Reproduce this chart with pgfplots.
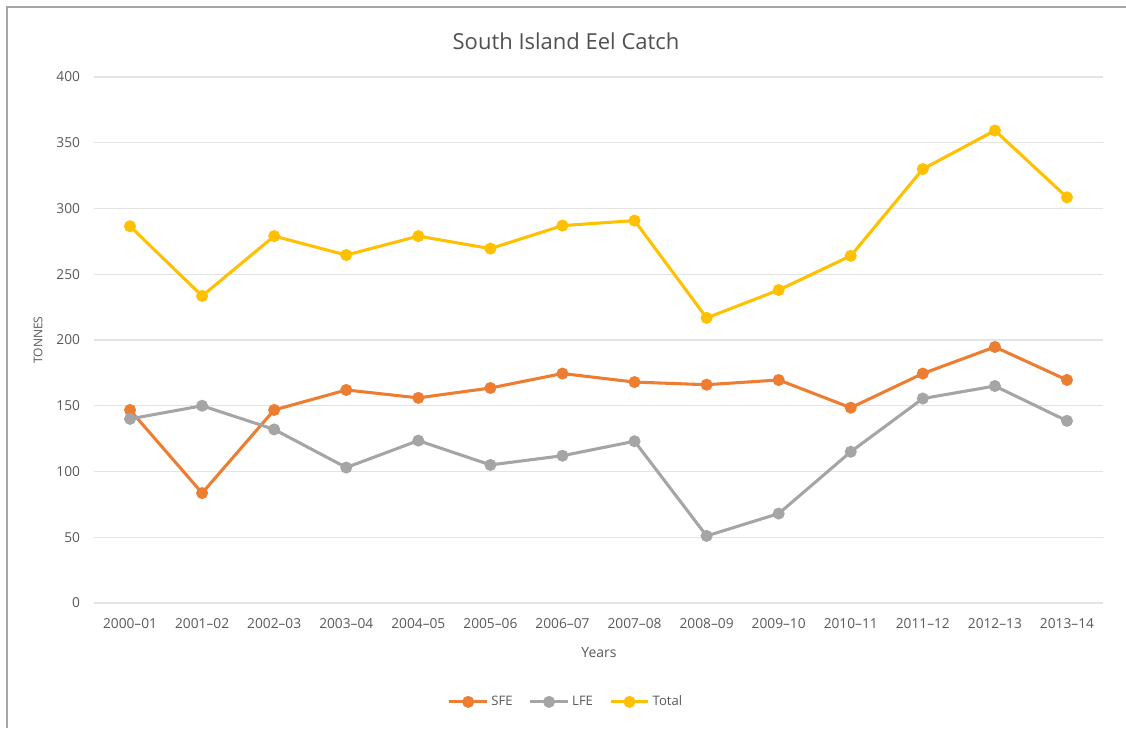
\documentclass[border=0pt]{standalone}
\usepackage{pgfplots}
\pgfplotsset{compat=1.18}
\usepackage{fontspec}
\setmainfont{Open Sans}
\definecolor{sfe}{HTML}{ED7D31}
\definecolor{lfe}{HTML}{A5A5A5}
\definecolor{tot}{HTML}{FFC000}
\definecolor{txt}{HTML}{595959}
\definecolor{grd}{HTML}{E3E3E3}
\begin{document}
\begin{tikzpicture}
\begin{scope}[x=0.75pt,y=0.75pt]
\path[use as bounding box] (0,0) rectangle (1126,728);
\draw[black!35, line width=1.5pt] (7,0) -- (7,721) -- (1126,721);
\node[txt!90!black, font=\fontsize{16.5}{19}\selectfont] at (566,687) {South Island Eel Catch};
\node[txt, rotate=90, font=\fontsize{9}{11}\selectfont] at (38,388) {TONNES};
\node[txt, font=\fontsize{10.5}{12}\selectfont] at (599,75) {Years};
\end{scope}
\begin{axis}[at={(70.5pt,93.75pt)}, anchor=south west, scale only axis,
  width=756.75pt, height=394.5pt,
  xmin=-0.5, xmax=13.5, ymin=0, ymax=400,
  ytick={0,50,...,400}, xtick={0,...,13},
  xticklabels={2000--01,2001--02,2002--03,2003--04,2004--05,2005--06,2006--07,2007--08,2008--09,2009--10,2010--11,2011--12,2012--13,2013--14},
  axis line style={draw=none}, major tick length=0pt,
  ymajorgrids, grid style={grd, line width=0.9pt},
  tick label style={txt, font=\fontsize{10.3}{12}\selectfont},
  /pgf/number format/assume math mode=true,
  yticklabel style={xshift=-7pt},
  xticklabel style={yshift=-8pt},
  legend style={at={(0.468,-0.188)}, anchor=center, draw=none, fill=none,
    legend columns=3, font=\fontsize{9.8}{11}\selectfont, text=txt,
    /tikz/every even column/.append style={column sep=10pt}},
  legend image code/.code={\draw[mark repeat=2,mark phase=2] plot coordinates {(0cm,0cm)(0.5cm,0cm)(1cm,0cm)};},
  every axis plot/.append style={line width=2.3pt, mark=*, mark size=3.3pt},
]
\addplot[sfe, mark options={fill=sfe, draw=sfe}] coordinates {
(0,146.8)(1,83.6)(2,146.8)(3,162)(4,156)(5,163.5)(6,174.5)(7,168)(8,166)(9,169.6)(10,148.5)(11,174.5)(12,194.7)(13,169.6)};
\addlegendentry{SFE}
\addplot[lfe, mark options={fill=lfe, draw=lfe}] coordinates {
(0,140)(1,150)(2,132)(3,103)(4,123.5)(5,105)(6,112)(7,123)(8,51)(9,68)(10,115)(11,155.5)(12,165)(13,138.5)};
\addlegendentry{LFE}
\addplot[tot, mark options={fill=tot, draw=tot}] coordinates {
(0,286.5)(1,233.5)(2,279)(3,264.6)(4,279)(5,269.5)(6,287)(7,290.8)(8,216.8)(9,238)(10,264)(11,330)(12,359.3)(13,308.5)};
\addlegendentry{Total}
\end{axis}
\end{tikzpicture}
\end{document}
